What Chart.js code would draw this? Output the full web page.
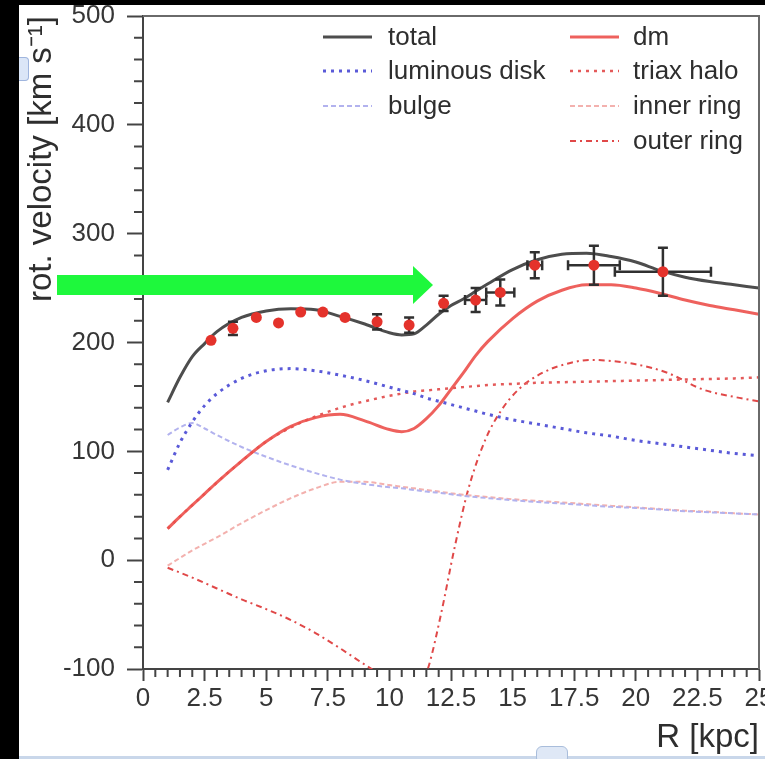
<!DOCTYPE html>
<html>
<head>
<meta charset="utf-8">
<script src="https://cdn.jsdelivr.net/npm/chart.js@4.4.0/dist/chart.umd.min.js"></script>
<style>
  html, body { margin: 0; padding: 0; background: #000; overflow: hidden; width: 765px; height: 759px; }
  #panel { position: absolute; left: 19px; top: 0; width: 790px; height: 759px; background: #fff; }
  #panel canvas { position: absolute; left: 0; top: 0; }
  #topbar { position: absolute; left: 0; top: 0; width: 765px; height: 5px; background: #000; z-index: 5; }
  .shaft { position: absolute; left: 57px; top: 275px; width: 357px; height: 20px; background: #1ef83c; z-index: 4; }
  .head { position: absolute; left: 413px; top: 266px; width: 0; height: 0; border-top: 19px solid transparent;
          border-bottom: 19px solid transparent; border-left: 20px solid #1ef83c; z-index: 4; }
  .uibar { position: absolute; left: 19px; top: 756px; width: 746px; height: 3px; background: #c9d7ea; z-index: 4; }
  .uibtn { position: absolute; left: 536px; top: 746px; width: 30px; height: 16px; border-radius: 6px;
           background: #dfe8f6; border: 1px solid #a9bddb; z-index: 4; }
  .uitab { position: absolute; left: 19px; top: 57px; width: 9px; height: 22px; border-radius: 0 4px 4px 0;
           background: #dbe6f7; border: 1px solid #9fb5de; border-left: none; z-index: 4; }
</style>
</head>
<body>
<div id="panel"><canvas id="rotChart" width="790" height="759"></canvas></div>
<div id="topbar"></div>
<div class="shaft"></div>
<div class="head"></div>
<div class="uibar"></div>
<div class="uibtn"></div>
<div class="uitab"></div>
<script>
// radius grid shared by the model curves [kpc]
const rGrid = [1, 1.5, 2, 2.5, 3, 4, 5, 6, 7, 8, 9, 10, 10.5, 11, 11.5, 12, 12.5, 13, 13.5, 14, 15, 16, 17, 18, 19, 20, 21, 22, 23, 24, 25];

// model components [km/s]
const totalV   = [145, 168, 187, 199, 210, 223, 229, 231, 230, 224, 217, 209, 207, 208, 216, 226, 234, 240, 247, 254, 267, 276, 281, 282, 279, 274, 266, 260, 256, 253, 250];
const dmV      = [29, 40, 50.5, 61, 71.5, 91, 109, 123, 131, 134, 128, 120, 118, 121, 130, 142, 157, 172, 188, 201, 222, 238, 248, 253, 253, 250, 245, 239, 234, 230, 226];
const diskV    = [83, 108, 127, 142, 153, 167, 174, 176, 174, 170, 165, 159, 156, 153, 149, 146, 143, 140, 137, 134, 129, 125, 121, 117, 114, 110, 107, 104, 101, 98, 96];
const haloV    = [29, 40, 50.5, 61, 71.5, 91, 109, 122, 132, 140, 146, 151, 153, 155, 156, 157, 158, 159, 160, 161, 162, 163, 163.5, 164, 164.5, 165, 165.5, 166, 166.5, 167, 168];
const bulgeV   = [115, 122, 126, 121, 115, 104, 95, 87, 80, 74, 70, 67, 66, 64.5, 63, 62, 60.5, 59, 58, 57, 55, 53.5, 52, 50.5, 49, 48, 46.5, 45, 44, 43, 42];
const innerV   = [-5, 2, 9, 15, 21, 34, 46, 57, 66, 72, 72, 69, 67.5, 66, 64.5, 63, 61.5, 60, 59, 58, 56, 54.5, 53, 51.5, 50, 48.5, 47, 45.5, 44.5, 43, 42];

// outer ring needs its own radii (sharp turn near 12 kpc)
const outerR   = [1, 2, 3, 4, 5, 6, 7, 8, 9, 10, 11, 11.3, 11.6, 12.1, 12.65, 13.2, 13.9, 14.55, 15.25, 16.2, 17.3, 18.2, 19, 20, 21.3, 22.7, 24, 25];
const outerV   = [-7, -16, -26, -36, -45, -55, -67, -81, -96, -110, -120, -114, -97, -49, 12, 65, 111, 138, 157, 172, 181, 184, 183, 180, 172, 157, 150, 146];

// observed rotation velocities with errors
const obsR     = [2.76, 3.65, 4.6, 5.5, 6.4, 7.3, 8.2, 9.5, 10.8, 12.2, 13.5, 14.5, 15.9, 18.3, 21.1];
const obsV     = [202, 213, 223, 218, 228, 228, 223, 219, 216, 236, 239, 246, 271, 271, 265];
const obsErrV  = [0, 6, 0, 0, 0, 0, 0, 7, 7, 7, 11, 12, 12, 18, 22];
const obsErrR  = [0, 0, 0, 0, 0, 0, 0, 0, 0, 0, 0.43, 0.57, 0.3, 1.05, 1.95];

const FONT = '"Liberation Sans", Arial, Helvetica, sans-serif';

function curve(xs, ys) {
    return xs.map((x, i) => ({ x: x, y: ys[i] }));
}

function lineSet(label, xs, ys, color, width, dash) {
    return {
        label: label,
        data: curve(xs, ys),
        showLine: true,
        borderColor: color,
        borderWidth: width,
        borderDash: dash,
        pointRadius: 0,
        fill: false,
        cubicInterpolationMode: 'monotone'
    };
}

const datasets = [
    {
        label: 'data',
        data: curve(obsR, obsV),
        showLine: false,
        pointRadius: 5.5,
        pointBackgroundColor: '#e4322b',
        pointBorderWidth: 0
    },
    lineSet('total', rGrid, totalV, '#4d4d4d', 3, []),
    lineSet('dm', rGrid, dmV, 'rgba(236, 80, 75, 0.9)', 3, []),
    lineSet('luminous disk', rGrid, diskV, '#5a5ad8', 3, [3, 5]),
    lineSet('triax halo', rGrid, haloV, '#e45a5a', 2.5, [3, 5]),
    lineSet('bulge', rGrid, bulgeV, '#b2b2ee', 2, [5, 3]),
    lineSet('inner ring', rGrid, innerV, '#f3b1ae', 2, [5, 3]),
    lineSet('outer ring', outerR, outerV, '#e04848', 2, [6, 4, 2, 4])
];

// error bars, drawn just before the observed points
const errorBars = {
    id: 'errorBars',
    beforeDatasetDraw(chart, args) {
        if (args.index !== 0) return;
        const { ctx, scales: { x, y } } = chart;
        const cap = 5;
        ctx.save();
        ctx.strokeStyle = '#303030';
        ctx.lineWidth = 2.5;
        obsR.forEach((r, i) => {
            const px = x.getPixelForValue(r);
            const py = y.getPixelForValue(obsV[i]);
            if (obsErrV[i] > 0) {
                const y0 = y.getPixelForValue(obsV[i] - obsErrV[i]);
                const y1 = y.getPixelForValue(obsV[i] + obsErrV[i]);
                ctx.beginPath();
                ctx.moveTo(px, y0); ctx.lineTo(px, y1);
                ctx.moveTo(px - cap, y0); ctx.lineTo(px + cap, y0);
                ctx.moveTo(px - cap, y1); ctx.lineTo(px + cap, y1);
                ctx.stroke();
            }
            if (obsErrR[i] > 0) {
                const x0 = x.getPixelForValue(r - obsErrR[i]);
                const x1 = x.getPixelForValue(r + obsErrR[i]);
                ctx.beginPath();
                ctx.moveTo(x0, py); ctx.lineTo(x1, py);
                ctx.moveTo(x0, py - cap); ctx.lineTo(x0, py + cap);
                ctx.moveTo(x1, py - cap); ctx.lineTo(x1, py + cap);
                ctx.stroke();
            }
        });
        ctx.restore();
    }
};

// minor ticks, frame and the two-column legend
const decorations = {
    id: 'decorations',
    afterDraw(chart) {
        const { ctx, chartArea: a, scales: { x, y } } = chart;
        ctx.save();
        ctx.strokeStyle = '#444';
        ctx.lineWidth = 2;
        ctx.beginPath();
        y.ticks.forEach(t => {
            if (t.label !== '') return;
            const py = y.getPixelForValue(t.value);
            ctx.moveTo(a.left - 9, py); ctx.lineTo(a.left, py);
        });
        x.ticks.forEach(t => {
            if (t.label !== '') return;
            const px = x.getPixelForValue(t.value);
            ctx.moveTo(px, a.bottom); ctx.lineTo(px, a.bottom + 8);
        });
        ctx.stroke();

        // top and right frame
        ctx.strokeStyle = '#6a6a6a';
        ctx.beginPath();
        ctx.moveTo(a.left, a.top); ctx.lineTo(a.right, a.top); ctx.lineTo(a.right, a.bottom);
        ctx.stroke();

        // legend
        const cols = [
            { lineX: 304, textX: 369, labels: ['total', 'luminous disk', 'bulge'] },
            { lineX: 551, textX: 614, labels: ['dm', 'triax halo', 'inner ring', 'outer ring'] }
        ];
        const rowY = [37, 71, 106, 141];
        ctx.font = '26px ' + FONT;
        ctx.textBaseline = 'middle';
        ctx.textAlign = 'left';
        cols.forEach(col => {
            col.labels.forEach((lab, j) => {
                const ds = chart.data.datasets.find(d => d.label === lab);
                ctx.strokeStyle = ds.borderColor;
                ctx.lineWidth = ds.borderWidth;
                ctx.setLineDash(ds.borderDash);
                ctx.beginPath();
                ctx.moveTo(col.lineX, rowY[j]);
                ctx.lineTo(col.lineX + 49, rowY[j]);
                ctx.stroke();
                ctx.setLineDash([]);
                ctx.fillStyle = '#2e2e2e';
                ctx.fillText(lab, col.textX, rowY[j] + 1);
            });
        });
        ctx.restore();
    }
};

function isMultiple(v, step) {
    return Math.abs(v / step - Math.round(v / step)) < 1e-6;
}

new Chart(document.getElementById('rotChart'), {
    type: 'scatter',
    data: { datasets: datasets },
    plugins: [errorBars, decorations],
    options: {
        responsive: false,
        animation: false,
        events: [],
        layout: { padding: { top: 16, right: 50, left: 0, bottom: 0 } },
        plugins: { legend: { display: false }, tooltip: { enabled: false } },
        scales: {
            x: {
                type: 'linear',
                min: 0,
                max: 25,
                afterFit(scale) { scale.height = 90; },
                ticks: {
                    stepSize: 0.5,
                    autoSkip: false,
                    maxRotation: 0,
                    padding: 2,
                    color: '#363636',
                    font: { family: FONT, size: 26 },
                    callback: v => isMultiple(v, 2.5) ? String(v) : ''
                },
                grid: {
                    drawOnChartArea: false,
                    tickLength: 12,
                    tickWidth: 2,
                    tickColor: c => (c.tick && isMultiple(c.tick.value, 2.5)) ? '#444' : 'rgba(0,0,0,0)'
                },
                border: { color: '#444', width: 2 },
                title: {
                    display: true,
                    text: 'R [kpc]',
                    align: 'end',
                    color: '#2e2e2e',
                    font: { family: FONT, size: 33, lineHeight: 1 },
                    padding: { top: 0, bottom: 5 }
                }
            },
            y: {
                type: 'linear',
                min: -100,
                max: 500,
                afterFit(scale) {
                    scale.width = 124;
                    scale.paddingTop = 0;
                    scale.paddingBottom = 0;
                },
                ticks: {
                    stepSize: 20,
                    autoSkip: false,
                    padding: 12,
                    color: '#363636',
                    font: { family: FONT, size: 26 },
                    callback: v => isMultiple(v, 100) ? String(v) : ''
                },
                grid: {
                    drawOnChartArea: false,
                    tickLength: 16,
                    tickWidth: 2,
                    tickColor: c => (c.tick && isMultiple(c.tick.value, 100)) ? '#444' : 'rgba(0,0,0,0)'
                },
                border: { color: '#444', width: 2 },
                title: {
                    display: true,
                    text: 'rot. velocity [km s\u207B\u00B9]',
                    align: 'end',
                    color: '#2e2e2e',
                    font: { family: FONT, size: 33, lineHeight: 1 },
                    padding: { top: 6, bottom: 0 }
                }
            }
        }
    }
});
</script>
</body>
</html>
